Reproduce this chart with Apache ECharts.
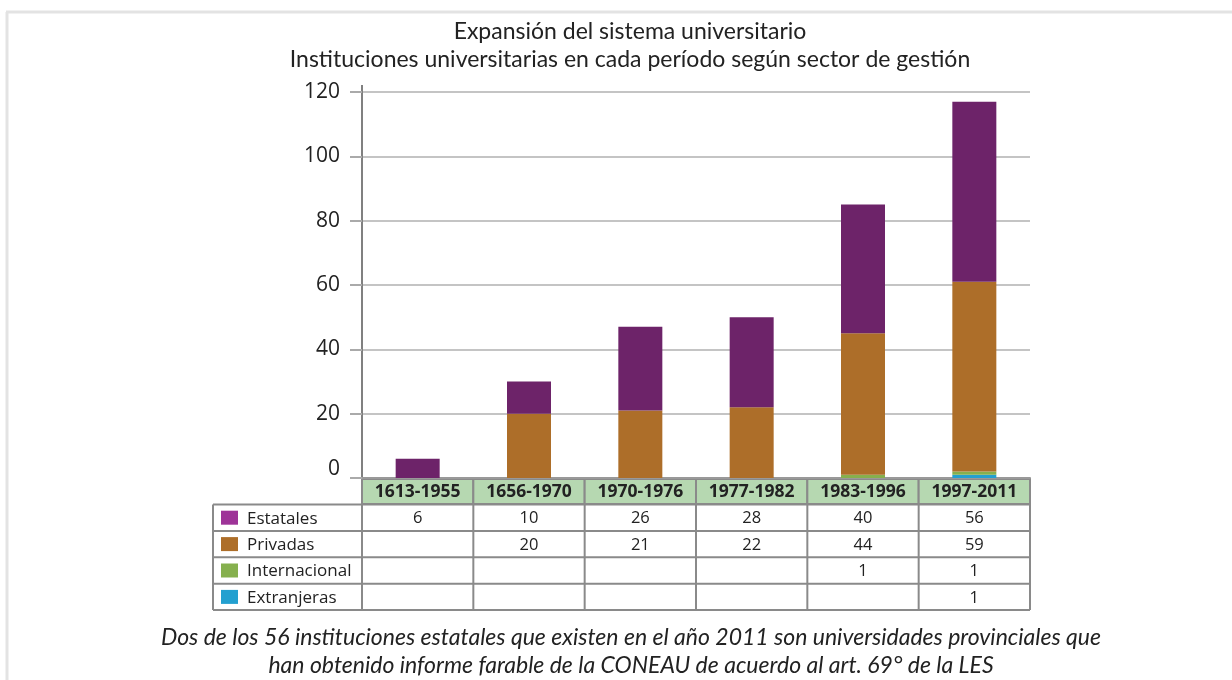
<!DOCTYPE html>
<html>
<head>
<meta charset="utf-8">
<script src="https://cdn.jsdelivr.net/npm/echarts@6/dist/echarts.min.js"></script>
<style>
  html, body { margin: 0; padding: 0; background: #fff; }
  #chart { width: 1232px; height: 680px; }
</style>
</head>
<body>
<div id="chart"></div>
<script>
  // data
  var categories = ['1613-1955', '1656-1970', '1970-1976', '1977-1982', '1983-1996', '1997-2011'];
  var estatales = [6, 10, 26, 28, 40, 56];
  var privadas = [null, 20, 21, 22, 44, 59];
  var internacional = [null, null, null, null, 1, 1];
  var extranjeras = [null, null, null, null, null, 1];
  var yTicks = [0, 20, 40, 60, 80, 100, 120];

  var rows = [
    {name: 'Estatales', swatch: '#9e3398', bar: '#6d2369', values: estatales},
    {name: 'Privadas', swatch: '#ad6e29', bar: '#ad6e29', values: privadas},
    {name: 'Internacional', swatch: '#86b04e', bar: '#86b04e', values: internacional},
    {name: 'Extranjeras', swatch: '#23a0d0', bar: '#23a0d0', values: extranjeras}
  ];

  var FONT = '"Open Sans", sans-serif';
  var TITLE_FONT = 'Lato, sans-serif';
  var GRID_LEFT = 362, GRID_RIGHT = 1030, GRID_TOP = 92, GRID_BOTTOM = 478;

  var chart = echarts.init(document.getElementById('chart'));

  // bottom of stack first
  var stackOrder = [3, 2, 1, 0];
  var series = stackOrder.map(function (i) {
    return {
      name: rows[i].name,
      type: 'bar',
      stack: 'total',
      barWidth: 44,
      itemStyle: {color: rows[i].bar},
      data: rows[i].values
    };
  });

  var option = {
    backgroundColor: '#fff',
    animation: false,
    title: [{
      text: 'Expansión del sistema universitario\nInstituciones universitarias en cada período según sector de gestión',
      left: 625,
      top: 13,
      textAlign: 'center',
      textStyle: {fontFamily: TITLE_FONT, fontSize: 23, fontWeight: 'normal', color: '#222', lineHeight: 28}
    }, {
      text: 'Dos de los 56 instituciones estatales que existen en el año 2011 son universidades provinciales que\nhan obtenido informe farable de la CONEAU de acuerdo al art. 69° de la LES',
      left: 626,
      top: 619,
      textAlign: 'center',
      textStyle: {fontFamily: TITLE_FONT, fontSize: 23, fontStyle: 'italic', fontWeight: 'normal', color: '#222', lineHeight: 28}
    }],
    grid: {
      left: GRID_LEFT,
      right: 1232 - GRID_RIGHT,
      top: GRID_TOP,
      bottom: 680 - GRID_BOTTOM,
      containLabel: false
    },
    xAxis: {
      type: 'category',
      data: categories,
      axisLine: {lineStyle: {color: '#999', width: 2}},
      axisTick: {show: false},
      axisLabel: {show: false}
    },
    yAxis: {
      type: 'value',
      min: yTicks[0],
      max: yTicks[yTicks.length - 1],
      interval: 20,
      axisLine: {show: true, lineStyle: {color: '#808080', width: 2}},
      axisTick: {show: true, length: 12, lineStyle: {color: '#aaa', width: 2}},
      splitLine: {lineStyle: {color: '#c4c4c4', width: 2}},
      axisLabel: {
        margin: 22,
        fontFamily: FONT,
        fontSize: 21,
        color: '#222',
        formatter: function (v) { return v === 0 ? '{z|0}' : String(v); },
        rich: {z: {fontFamily: FONT, fontSize: 21, color: '#222', padding: [0, 0, 18, 0]}}
      }
    },
    series: series
  };
  chart.setOption(option);

  // table under the plot, placed with the category axis
  var bandW = (GRID_RIGHT - GRID_LEFT) / categories.length;
  var headTop = 479, headH = 25;
  var rowTop = 504.5, rowH = 26.4;
  var tableLeft = 213;
  var lineColor = '#8a8a8a';
  var g = [];

  // frame of the page
  g.push({type: 'line', shape: {x1: 6, y1: 12, x2: 1232, y2: 12}, style: {stroke: '#e3e3e3', lineWidth: 3}});
  g.push({type: 'line', shape: {x1: 7, y1: 12, x2: 7, y2: 680}, style: {stroke: '#e3e3e3', lineWidth: 3}});

  // axis line extends above the top grid line and through the header
  g.push({type: 'line', shape: {x1: GRID_LEFT, y1: 85, x2: GRID_LEFT, y2: rowTop}, style: {stroke: '#808080', lineWidth: 2}});

  categories.forEach(function (c, j) {
    var cx = chart.convertToPixel({xAxisIndex: 0}, c);
    g.push({
      type: 'rect',
      shape: {x: cx - bandW / 2, y: headTop, width: bandW, height: headH},
      style: {fill: '#b6d8b1', stroke: lineColor, lineWidth: 2}
    });
    g.push({
      type: 'text',
      x: cx, y: headTop + headH / 2 + 1,
      style: {text: c, fontFamily: FONT, fontSize: 17.5, fontWeight: 'bold', fill: '#222', align: 'center', verticalAlign: 'middle'}
    });
    rows.forEach(function (r, i) {
      var v = r.values[j];
      if (v != null) {
        g.push({
          type: 'text',
          x: cx, y: rowTop + rowH * i + rowH / 2 + 1,
          style: {text: String(v), fontFamily: FONT, fontSize: 16.5, fill: '#222', align: 'center', verticalAlign: 'middle'}
        });
      }
    });
  });

  var tableBottom = rowTop + rowH * rows.length;
  // horizontal rules
  for (var i = 0; i <= rows.length; i++) {
    var y = rowTop + rowH * i;
    g.push({type: 'line', shape: {x1: tableLeft, y1: y, x2: GRID_RIGHT, y2: y}, style: {stroke: lineColor, lineWidth: 2}});
  }
  // vertical rules
  g.push({type: 'line', shape: {x1: tableLeft, y1: rowTop, x2: tableLeft, y2: tableBottom}, style: {stroke: lineColor, lineWidth: 2}});
  for (var k = 0; k <= categories.length; k++) {
    var x = GRID_LEFT + bandW * k;
    g.push({type: 'line', shape: {x1: x, y1: rowTop, x2: x, y2: tableBottom}, style: {stroke: lineColor, lineWidth: 2}});
  }

  // legend column
  rows.forEach(function (r, i) {
    var cy = rowTop + rowH * i + rowH / 2;
    g.push({type: 'rect', shape: {x: 221, y: cy - 7, width: 17, height: 14}, style: {fill: r.swatch}});
    g.push({
      type: 'text',
      x: 247, y: cy + 1,
      style: {text: r.name, fontFamily: FONT, fontSize: 17, fill: '#222', align: 'left', verticalAlign: 'middle'}
    });
  });

  chart.setOption({graphic: g});
</script>
</body>
</html>
